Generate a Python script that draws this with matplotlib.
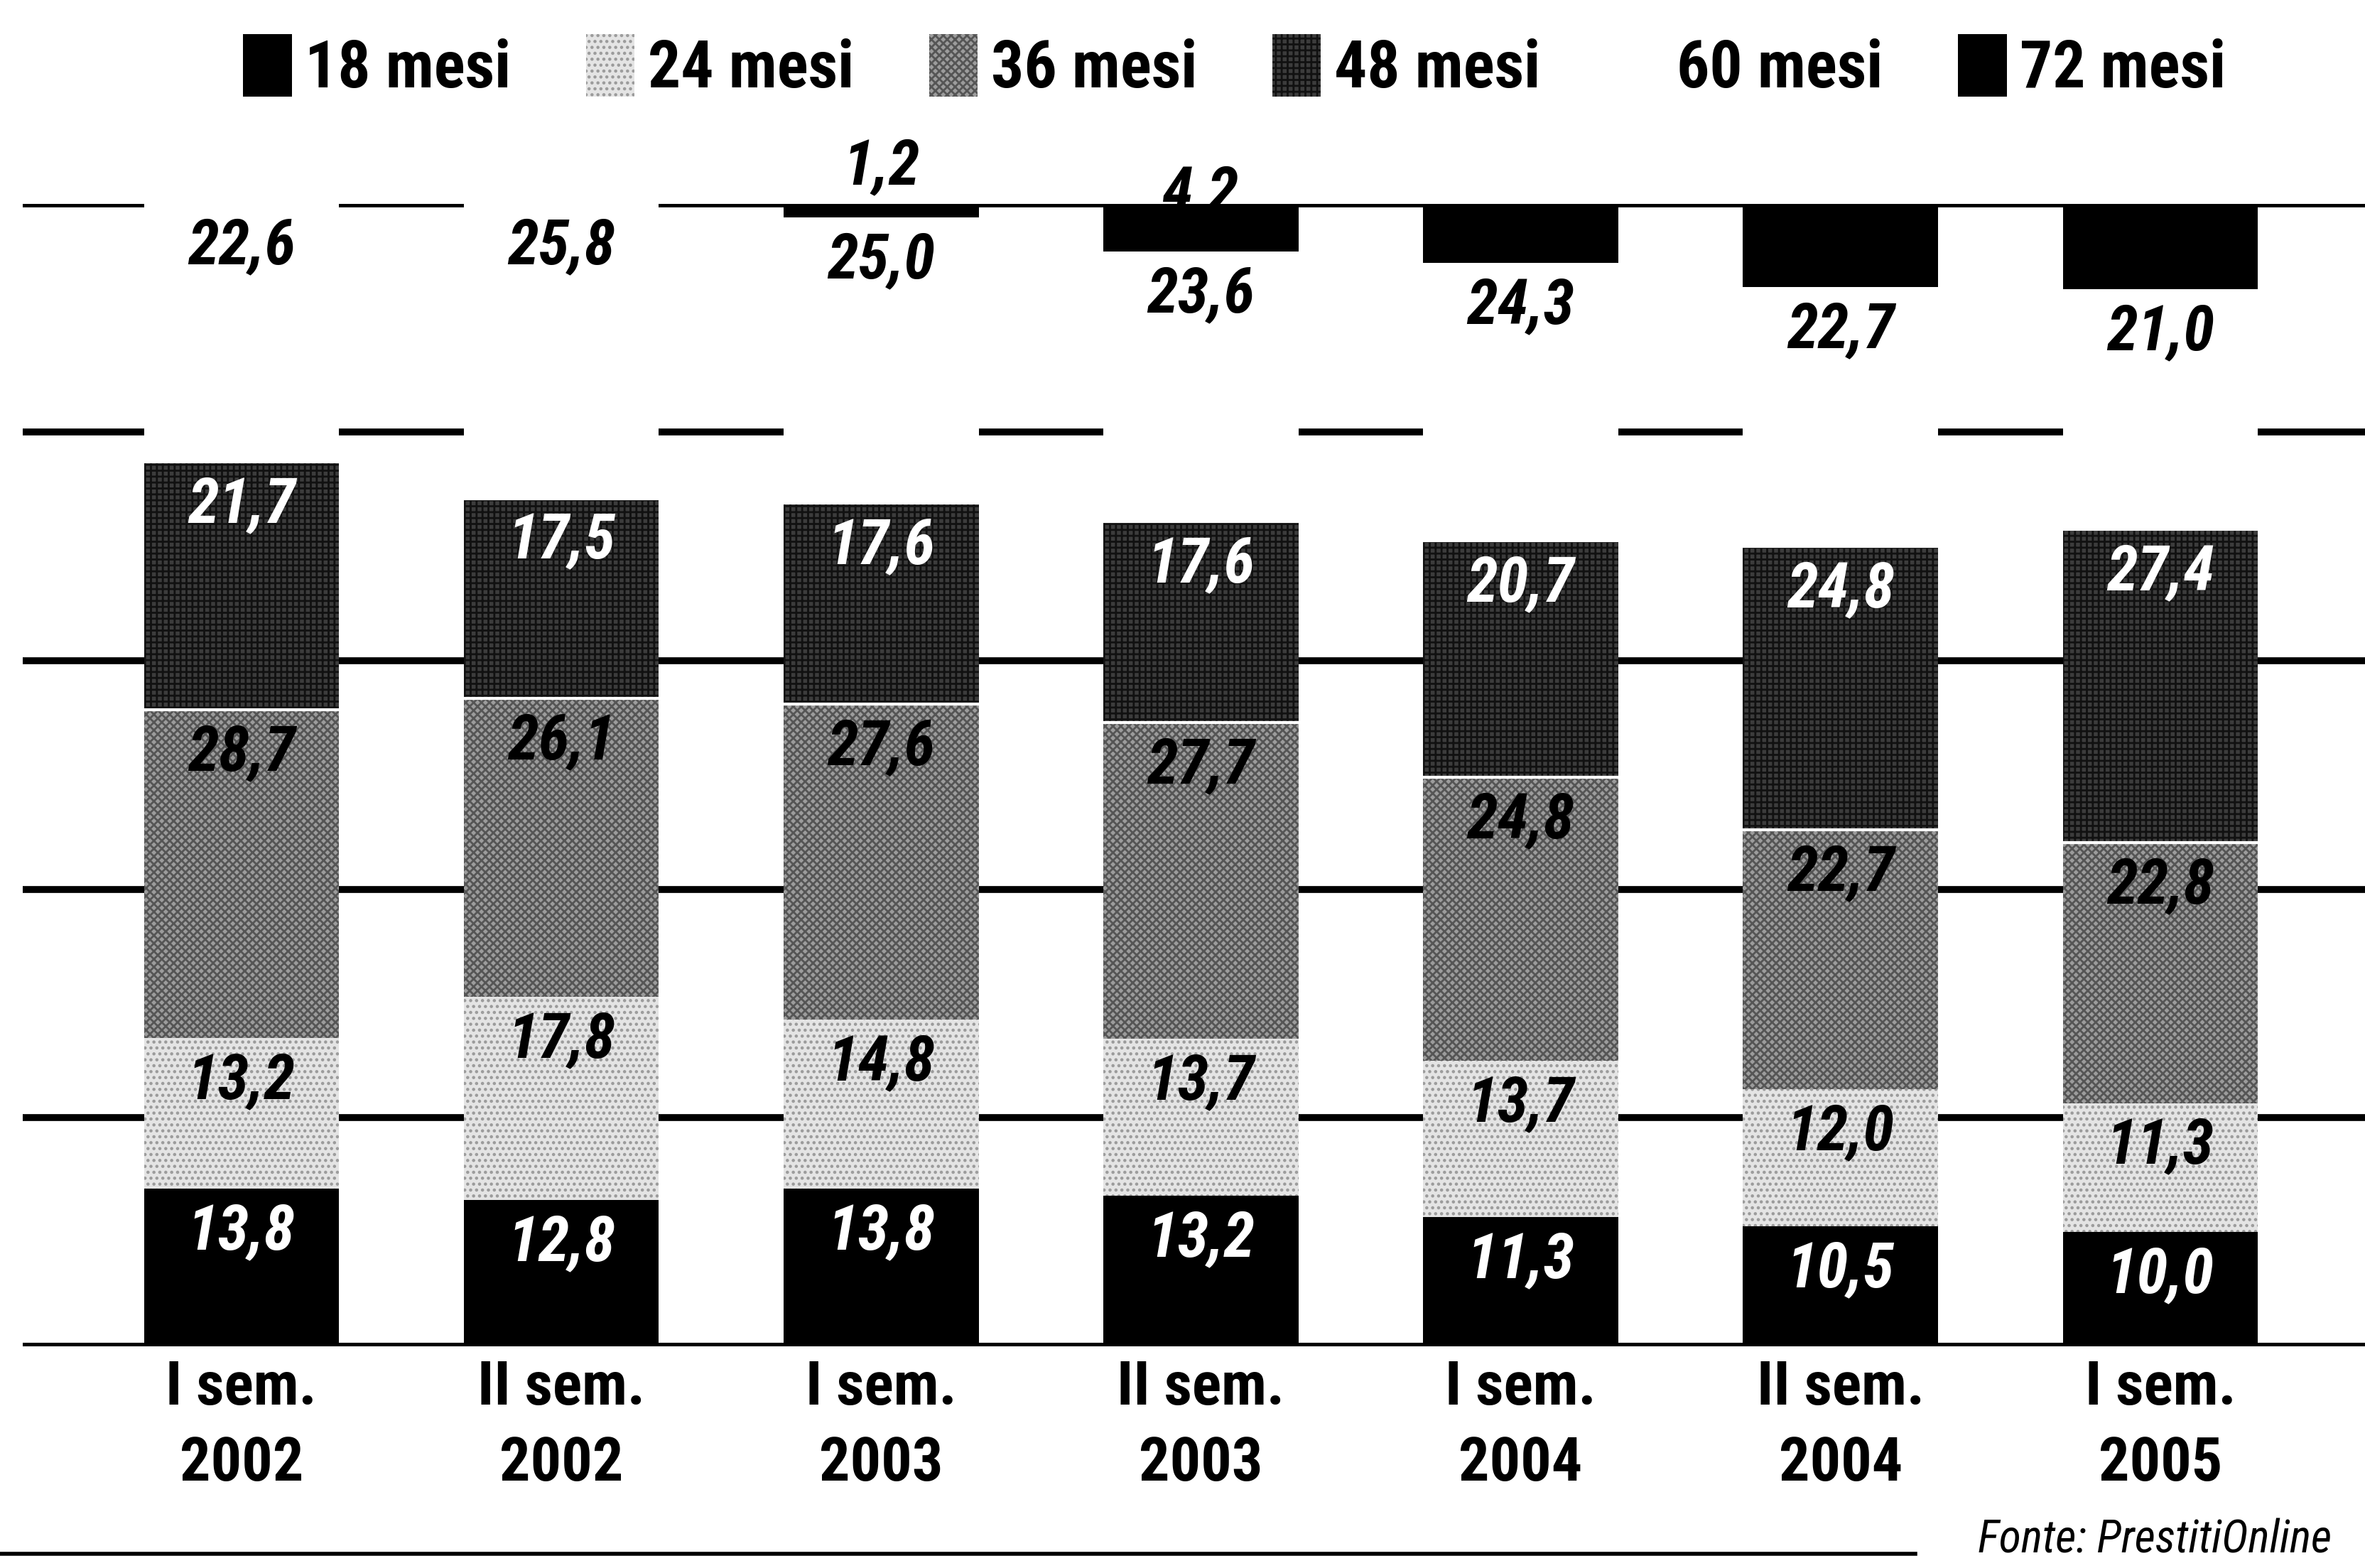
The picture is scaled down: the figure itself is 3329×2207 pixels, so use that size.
import numpy as np
import matplotlib
matplotlib.use("Agg")
import matplotlib.pyplot as plt
from matplotlib import font_manager
from matplotlib.patches import Patch
from matplotlib.lines import Line2D

# Dati: composizione dei prestiti per durata (%)
periodi = ["I sem.\n2002", "II sem.\n2002", "I sem.\n2003", "II sem.\n2003",
           "I sem.\n2004", "II sem.\n2004", "I sem.\n2005"]
durate = ["18 mesi", "24 mesi", "36 mesi", "48 mesi", "60 mesi", "72 mesi"]
m18 = [13.8, 12.8, 13.8, 13.2, 11.3, 10.5, 10.0]
m24 = [13.2, 17.8, 14.8, 13.7, 13.7, 12.0, 11.3]
m36 = [28.7, 26.1, 27.6, 27.7, 24.8, 22.7, 22.8]
m48 = [21.7, 17.5, 17.6, 17.6, 20.7, 24.8, 27.4]
m60 = [22.6, 25.8, 25.0, 23.6, 24.3, 22.7, 21.0]
m72 = [0.0, 0.0, 1.2, 4.2, 5.2, 7.3, 7.5]
fonte = "Fonte: PrestitiOnline"

serie = [m18, m24, m36, m48, m60, m72]
facce = ["#000000", "#e4e4e4", "#9c9c9c", "#3c3c3c", "#ffffff", "#000000"]
tratteggi = [None, "..", "xxx", "++", None, None]
col_tratt = ["#000000", "#9a9a9a", "#555555", "#111111", "#ffffff", "#000000"]
col_testo = ["white", "black", "black", "white", "black", "black"]

# cerca un carattere stretto (condensed) se c'e'
nomi = {f.name for f in font_manager.fontManager.ttflist}
stretto = [f for f in font_manager.fontManager.ttflist
           if f.stretch in ("condensed", "semi-condensed", "extra-condensed")]
famiglia = "DejaVu Sans"
stira = "normal"
for cand in ["Liberation Sans Narrow", "Roboto Condensed", "Arial Narrow",
             "DejaVu Sans Condensed", "Open Sans Condensed"]:
    if cand in nomi:
        famiglia = cand
        break
else:
    if any(f.name == "DejaVu Sans" for f in stretto):
        stira = "condensed"
    elif "Roboto" in nomi:
        famiglia = "Roboto"
plt.rcParams['font.family'] = [famiglia, 'DejaVu Sans']
plt.rcParams['font.stretch'] = stira
plt.rcParams['hatch.linewidth'] = 2.0

fig = plt.figure(figsize=(33.29, 22.07), dpi=100)
fig.patch.set_facecolor("white")
ax = fig.add_axes([0.0096, 0.1413, 0.9904, 0.7288])

x = np.arange(len(periodi))
ax.set_xlim(-0.684, 6.64)
ax.set_ylim(0, 100)

# griglia orizzontale
for g in range(0, 101, 20):
    ax.axhline(g, color="black", lw=7 if g > 0 else 8, zorder=1)

base = np.zeros(len(periodi))
for i, vals in enumerate(serie):
    v = np.array(vals)
    ax.bar(x, v, bottom=base, width=0.61, color=facce[i], hatch=tratteggi[i],
           edgecolor=col_tratt[i], linewidth=0, zorder=2)
    if i in (2, 3):
        # sottile filo bianco tra i segmenti scuri
        ax.hlines(base + v, x - 0.305, x + 0.305, color="white", lw=3, zorder=3)
    for j in range(len(x)):
        if v[j] <= 0:
            continue
        if i == 5:
            if v[j] < 5:
                nascosto = v[j] > 3
                ax.text(x[j], 98.2 if nascosto else 100.6,
                        f"{v[j]:.1f}".replace(".", ","), ha="center",
                        va="bottom", fontsize=64, fontweight="heavy", style="italic",
                        color="black", zorder=1.5 if nascosto else 4)
            continue
        top = base[j] + v[j]
        ax.text(x[j], top - 3.8, f"{v[j]:.1f}".replace(".", ","), ha="center",
                va="center", fontsize=64, fontweight="heavy", style="italic",
                color=col_testo[i], zorder=5)
    base = base + v

# etichette asse x
for j, p in enumerate(periodi):
    riga1, riga2 = p.split("\n")
    ax.text(x[j], -3.6, riga1, ha="center", va="center", fontsize=62,
            fontweight="heavy", clip_on=False)
    ax.text(x[j], -10.3, riga2, ha="center", va="center", fontsize=62,
            fontweight="heavy", clip_on=False)

ax.set_xticks([])
ax.set_yticks([])
for s in ax.spines.values():
    s.set_visible(False)
ax.set_facecolor("none")

# legenda
maniglie = [Patch(facecolor=facce[i], hatch=tratteggi[i], edgecolor=col_tratt[i],
                  linewidth=0) for i in range(6)]
fig.legend(maniglie, durate, loc="center", bbox_to_anchor=(0.522, 0.957), ncol=6,
           frameon=False, prop={"weight": "heavy", "size": 66},
           handlelength=0.75, handleheight=1.1, handletextpad=0.2, columnspacing=1.15)

# fonte e linea finale
fig.text(0.986, 0.018, fonte, ha="right", va="center", fontsize=46, style="italic")
fig.add_artist(Line2D([0.0, 0.81], [0.009, 0.009], transform=fig.transFigure,
                      color="black", lw=4))

fig.savefig("out.png", dpi=100, facecolor="white")
